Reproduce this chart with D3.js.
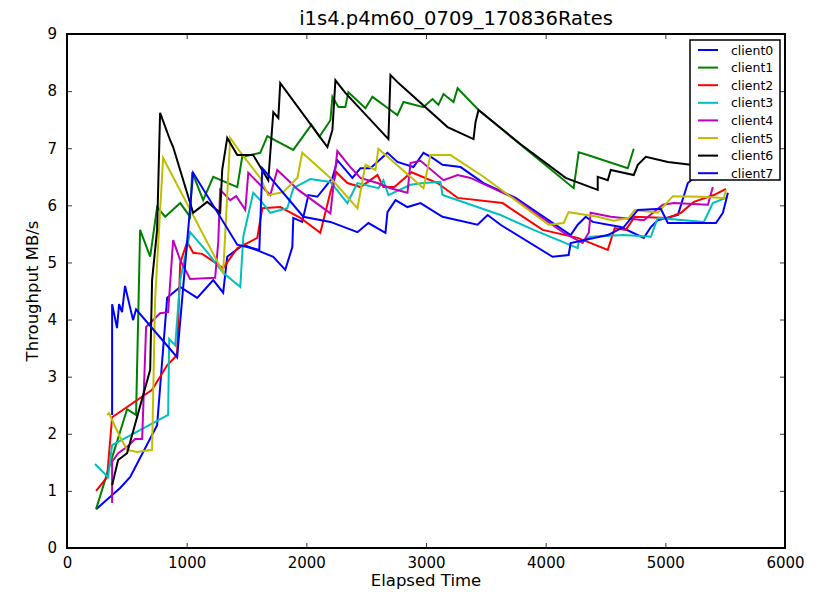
<!DOCTYPE html>
<html>
<head>
<meta charset="utf-8">
<script src="https://cdn.jsdelivr.net/npm/d3@7"></script>
<style>
  body { margin: 0; background: #fff; }
  svg text { font-family: "DejaVu Sans", sans-serif; }
</style>
</head>
<body>
<svg width="818" height="592"></svg>
<script>
// series names and colours (classic matplotlib cycle)
var clients = ["client0", "client1", "client2", "client3", "client4", "client5", "client6", "client7"];
var colors = ["#0000ff", "#008000", "#ff0000", "#00bfbf", "#bf00bf", "#bfbf00", "#000000", "#0000ff"];

// tick values
var xTicks = [0, 1000, 2000, 3000, 4000, 5000, 6000];
var yTicks = [0, 1, 2, 3, 4, 5, 6, 7, 8, 9];

// [elapsed time, MB/s]
var client0 = [[243,0.68],[444,1.05],[527,1.24],[753,2.15],[837,4.38],[946,4.57],[1088,4.38],[1222,4.69],[1305,4.47],[1339,5.10],[1473,5.31],[1724,5.10],[1824,4.87],[1883,5.27],[1891,5.78],[1966,5.71],[2017,6.18],[2092,6.15],[2218,6.48],[2259,6.79],[2385,6.48],[2452,6.65],[2535,6.65],[2678,6.92],[2761,6.76],[2895,6.67],[2979,6.92],[3054,6.83],[3138,6.71],[3289,6.67],[3481,6.39],[3749,6.13],[4209,5.48],[4268,5.66],[4335,5.80],[4393,5.71],[4628,5.62],[4820,5.43],[4879,5.62],[4937,5.74],[5105,5.83],[5188,6.39],[5297,6.58]];
var client1 = [[243,0.68],[502,2.43],[577,2.33],[611,5.57],[695,5.10],[753,5.97],[820,5.80],[946,6.04],[1029,5.80],[1046,6.58],[1138,6.09],[1222,6.50],[1423,6.32],[1464,6.85],[1615,6.92],[1674,7.21],[1891,6.97],[2042,7.41],[2109,7.20],[2201,7.49],[2218,7.90],[2268,7.72],[2326,7.72],[2351,7.98],[2494,7.70],[2552,7.90],[2703,7.67],[2761,7.58],[2812,7.81],[2979,7.72],[3054,7.86],[3104,7.76],[3146,7.95],[3230,7.81],[3264,8.05],[3439,7.67],[3791,7.06],[4234,6.30],[4276,6.93],[4351,6.88],[4686,6.65],[4736,6.99]];
var client2 = [[243,1.00],[335,1.24],[377,2.29],[711,2.77],[837,3.20],[920,3.38],[946,4.99],[1004,5.36],[1054,5.17],[1130,5.15],[1305,4.90],[1423,5.25],[1590,5.43],[1632,5.95],[1782,5.97],[1950,5.78],[2117,5.52],[2201,6.23],[2251,6.58],[2343,6.39],[2452,6.32],[2594,6.53],[2644,6.32],[2736,6.32],[2879,6.58],[3096,6.39],[3264,6.13],[3640,6.04],[3975,5.57],[4268,5.43],[4519,5.22],[4577,5.60],[4669,5.57],[4745,5.80],[5021,5.78],[5130,5.87],[5238,6.06],[5406,6.18],[5506,6.29]];
var client3 = [[234,1.47],[343,1.24],[377,1.80],[845,2.33],[854,3.66],[904,3.55],[946,4.69],[1029,5.53],[1172,5.18],[1305,4.82],[1448,4.57],[1473,5.45],[1556,6.22],[1615,6.09],[1699,5.87],[1841,5.95],[1891,6.30],[2033,6.46],[2201,6.41],[2343,6.04],[2427,6.39],[2602,6.30],[2644,6.44],[2686,6.18],[2870,6.36],[2979,6.39],[3121,6.41],[3138,6.18],[3623,5.83],[3900,5.57],[4268,5.25],[4276,5.36],[4376,5.45],[4653,5.48],[4879,5.45],[4937,5.78],[5322,5.71],[5397,6.04],[5506,6.13]];
var client4 = [[377,0.79],[377,1.51],[427,1.66],[502,1.77],[569,1.91],[628,1.91],[661,3.87],[778,4.11],[845,4.13],[887,5.39],[946,5.04],[1029,4.71],[1238,4.73],[1264,5.36],[1280,6.27],[1364,6.09],[1414,6.16],[1490,5.92],[1515,6.57],[1699,6.18],[1757,6.62],[1933,6.27],[2201,5.86],[2259,6.95],[2368,6.67],[2452,6.48],[2594,6.39],[2703,6.30],[2845,6.22],[2870,6.74],[2954,6.78],[3146,6.44],[3264,6.53],[3372,6.48],[3732,6.13],[4150,5.52],[4309,5.34],[4360,5.52],[4376,5.87],[4544,5.80],[4820,5.74],[4979,6.01],[5071,6.04],[5356,6.01],[5397,6.32]];
var client5 = [[335,2.33],[351,2.36],[444,1.94],[502,1.72],[586,1.68],[711,1.72],[736,4.34],[803,6.83],[1305,4.82],[1364,7.18],[1448,6.93],[1615,6.48],[1682,6.18],[1807,6.23],[1925,6.48],[1966,6.92],[2201,6.48],[2427,5.95],[2494,6.71],[2577,6.62],[2602,6.99],[2979,6.30],[3037,6.88],[3205,6.88],[3481,6.50],[4025,5.66],[4150,5.69],[4192,5.88],[4435,5.80],[4569,5.73],[4695,5.78],[4745,5.92],[4937,5.87],[5063,6.16],[5297,6.15],[5489,6.13],[5506,6.27]];
var client6 = [[377,1.10],[427,1.54],[502,1.66],[695,3.12],[711,4.69],[753,5.57],[778,7.62],[862,7.14],[887,7.02],[1054,5.87],[1172,6.06],[1280,5.87],[1297,6.62],[1339,7.18],[1423,6.88],[1556,6.88],[1682,6.44],[1724,7.63],[1766,7.53],[1782,8.14],[2176,7.02],[2218,7.32],[2243,8.19],[2326,7.97],[2686,7.16],[2703,8.28],[2770,8.14],[3180,7.37],[3397,7.16],[3414,7.46],[3439,7.67],[3791,7.07],[4167,6.48],[4435,6.27],[4435,6.50],[4519,6.44],[4544,6.62],[4736,6.53],[4770,6.71],[4837,6.85],[5021,6.76],[5213,6.71],[5400,6.66]];
var client7 = [[377,2.33],[377,4.27],[418,3.85],[435,4.27],[460,4.13],[485,4.59],[552,3.99],[577,4.18],[920,3.34],[1054,6.57],[1423,5.31],[1607,5.22],[1632,6.65],[1975,5.80],[2201,5.71],[2427,5.53],[2519,5.69],[2661,5.52],[2678,5.88],[2745,6.09],[2845,5.97],[2954,6.04],[3138,5.80],[3431,5.66],[3515,5.83],[3623,5.66],[4058,5.10],[4192,5.13],[4209,5.34],[4519,5.48],[4653,5.62],[4770,5.92],[4962,5.94],[5021,5.69],[5238,5.69],[5423,5.69],[5481,5.87],[5523,6.22]];

var series = [client0, client1, client2, client3, client4, client5, client6, client7];

let svg = d3.select("svg");
var plotLeft = 67, plotRight = 785, plotTop = 34, plotBottom = 548;

var x = d3.scaleLinear().domain([0, 6000]).range([plotLeft, plotRight]);
var y = d3.scaleLinear().domain([0, 9]).range([plotBottom, plotTop]);

// clip the lines to the axes box
svg.append("clipPath").attr("id", "plotclip")
    .append("rect")
    .attr("x", plotLeft).attr("y", plotTop)
    .attr("width", plotRight - plotLeft).attr("height", plotBottom - plotTop);

var line = d3.line()
    .x(function (d) { return x(d[0]); })
    .y(function (d) { return y(d[1]); });

svg.append("g")
    .attr("clip-path", "url(#plotclip)")
    .selectAll("path")
    .data(series)
    .enter()
    .append("path")
    .attr("d", line)
    .attr("fill", "none")
    .attr("stroke", function (d, i) { return colors[i]; })
    .attr("stroke-width", 2)
    .attr("stroke-linejoin", "miter");

// axes: inward ticks on all four sides
function styleAxis(g) {
    g.select(".domain").remove();
    g.selectAll(".tick line").attr("stroke", "#000").attr("stroke-width", 0.8);
    g.selectAll(".tick text").attr("font-size", 15).attr("fill", "#000")
        .style("font-family", "DejaVu Sans");
}

svg.append("g")
    .attr("transform", "translate(0," + plotBottom + ")")
    .call(d3.axisBottom(x).tickValues(xTicks).tickFormat(d3.format("d")).tickSizeInner(-5).tickPadding(9))
    .call(styleAxis);

svg.append("g")
    .attr("transform", "translate(0," + plotTop + ")")
    .call(d3.axisTop(x).tickValues(xTicks).tickFormat("").tickSizeInner(-5))
    .call(styleAxis);

svg.append("g")
    .attr("transform", "translate(" + plotLeft + ",0)")
    .call(d3.axisLeft(y).tickValues(yTicks).tickFormat(d3.format("d")).tickSizeInner(-5).tickPadding(10))
    .call(styleAxis);

svg.append("g")
    .attr("transform", "translate(" + plotRight + ",0)")
    .call(d3.axisRight(y).tickValues(yTicks).tickFormat("").tickSizeInner(-5))
    .call(styleAxis);

// frame
svg.append("rect")
    .attr("x", plotLeft).attr("y", plotTop)
    .attr("width", plotRight - plotLeft).attr("height", plotBottom - plotTop)
    .attr("fill", "none")
    .attr("stroke", "#000")
    .attr("stroke-width", 2);

// title and axis labels
svg.append("text")
    .attr("x", 456).attr("y", 25)
    .attr("text-anchor", "middle")
    .attr("font-size", 19.5)
    .text("i1s4.p4m60_0709_170836Rates");

svg.append("text")
    .attr("x", (plotLeft + plotRight) / 2).attr("y", 586)
    .attr("text-anchor", "middle")
    .attr("font-size", 16.5)
    .text("Elapsed Time");

svg.append("text")
    .attr("transform", "translate(38," + (plotTop + plotBottom) / 2 + ") rotate(-90)")
    .attr("text-anchor", "middle")
    .attr("font-size", 16.5)
    .text("Throughput MB/s");

// legend
var legend = svg.append("g");
legend.append("rect")
    .attr("x", 690).attr("y", 40)
    .attr("width", 90).attr("height", 140)
    .attr("fill", "#fff")
    .attr("stroke", "#000")
    .attr("stroke-width", 1.5);

for (var i = 0; i < clients.length; i++) {
    var ly = 50 + i * 17.6;
    legend.append("line")
        .attr("x1", 698).attr("x2", 718)
        .attr("y1", ly).attr("y2", ly)
        .attr("stroke", colors[i])
        .attr("stroke-width", 2);
    legend.append("text")
        .attr("x", 731).attr("y", ly + 4.5)
        .attr("font-size", 12.5)
        .text(clients[i]);
}
</script>
</body>
</html>
